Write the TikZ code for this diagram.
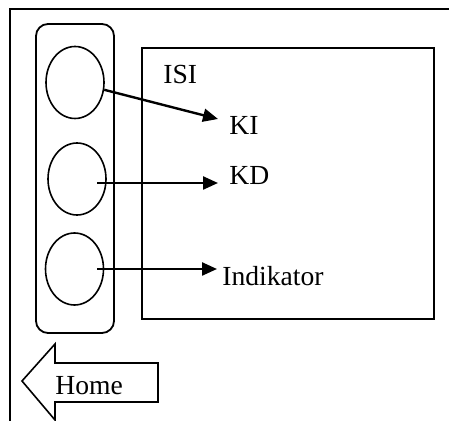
\documentclass[tikz,border=0pt]{standalone}
\usepackage{fontspec}
\setmainfont{Liberation Serif}
\usetikzlibrary{positioning, shapes.geometric, arrows.meta, calc}

\begin{document}
\begin{tikzpicture}[x=0.5pt, y=-0.5pt,
    lbl/.style={anchor=base west, inner sep=0pt, font=\fontsize{13.8}{16}\selectfont},
    menubtn/.style={ellipse, draw, line width=0.8pt, minimum width=29pt, minimum height=36pt, inner sep=0pt},
    link/.style={-{Triangle[length=7.5pt,width=6.5pt]}, line width=1.2pt}]
  \useasboundingbox (0,0) rectangle (449,421);
  % Page frame, cut off at right and bottom
  \draw[line width=1.1pt] (449,9) -- (10,9) -- (10,421);
  % Side menu with three buttons
  \node[draw, line width=0.9pt, rounded corners=6pt, minimum width=39pt,
        minimum height=154.5pt, inner sep=0pt] (menu) at (75,178.5) {};
  \node[menubtn] (btnki) at (75,82.5) {};
  \node[menubtn] (btnkd) at (77,179) {};
  \node[menubtn] (btnind) at (74.5,269) {};
  % Content box
  \node[draw, line width=1.1pt, minimum width=146pt, minimum height=135.5pt,
        inner sep=0pt] (isibox) at (288,183.5) {};
  \node[lbl] (isi) at (163,84) {ISI};
  \node[lbl] (ki) at (229,135) {KI};
  \node[lbl] (kd) at (229,185) {KD};
  \node[lbl] (indikator) at (222,286) {Indikator};
  % Arrow tips
  \coordinate (tipki) at (218,119);
  \coordinate (tipkd) at (218,183);
  \coordinate (tipind) at (217,269);
  \draw[link] (btnki.-14) -- (tipki);
  \draw[link] ($(btnkd.center)+(20,4)$) -- (tipkd);
  \draw[link] ($(btnind.center)+(22.5,0)$) -- (tipind);
  % Home button
  \draw[line width=0.8pt] (22,381) -- (55,344) -- (55,363) -- (158,363)
    -- (158,402) -- (55,402) -- (55,420) -- cycle;
  \node[lbl] (home) at (55,394) {Home};
\end{tikzpicture}
\end{document}
